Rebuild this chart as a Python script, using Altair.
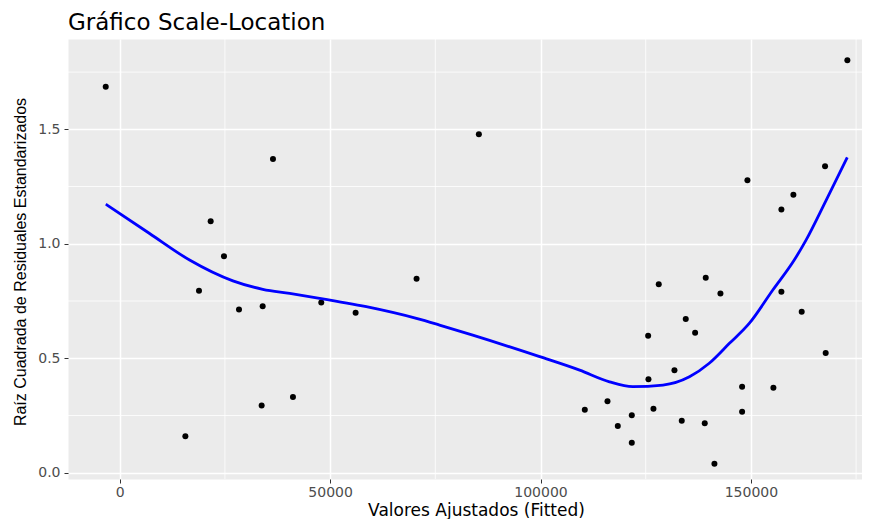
import altair as alt
import pandas as pd

# ---- data ----
fitted = [-3325, 36420, 21615, 24780, 85350, 172920, 149170, 167620, 160095, 157245,
          18840, 28345, 33970, 47900, 56060, 70545, 15600, 33730, 41170,
          128100, 139265, 142755, 134515, 136740, 125580, 157245, 162070, 167770,
          131830, 125650, 147905, 155345, 110525, 115915, 121690, 126840, 118365,
          121690, 133565, 139030, 147905, 141330]
sqrt_std_resid = [1.686, 1.370, 1.098, 0.946, 1.478, 1.802, 1.278, 1.339, 1.214, 1.150,
                  0.795, 0.713, 0.727, 0.744, 0.699, 0.847, 0.159, 0.294, 0.331,
                  0.823, 0.852, 0.783, 0.671, 0.611, 0.598, 0.790, 0.703, 0.523,
                  0.447, 0.408, 0.376, 0.371, 0.275, 0.312, 0.251, 0.279, 0.204,
                  0.131, 0.227, 0.216, 0.266, 0.039]

# smoothed (loess) curve
curve_x = [-3300, 7100, 16600, 26900, 34000, 40400, 47500, 58600, 70500, 76000,
           83900, 99800, 109300, 116400, 121900, 129100, 135400, 140100, 144900,
           149600, 155200, 160300, 163100, 167900, 172900]
curve_y = [1.173, 1.045, 0.929, 0.838, 0.801, 0.783, 0.762, 0.725, 0.674, 0.645,
           0.601, 0.507, 0.448, 0.397, 0.376, 0.383, 0.419, 0.478, 0.565,
           0.652, 0.798, 0.929, 1.016, 1.191, 1.377]

x_major = [0, 50000, 100000, 150000]
y_major = [0.0, 0.5, 1.0, 1.5]
x_minor = [25000, 75000, 125000, 175000]
y_minor = [0.25, 0.75, 1.25, 1.75]

X_DOMAIN = [-12290, 176400]
Y_DOMAIN = [-0.0275, 1.8945]

xscale = alt.Scale(domain=X_DOMAIN, nice=False, zero=False)
yscale = alt.Scale(domain=Y_DOMAIN, nice=False, zero=False)

pts = pd.DataFrame({"fitted": fitted, "r": sqrt_std_resid})
curve = pd.DataFrame({"fitted": curve_x, "r": curve_y})
xmin_df = pd.DataFrame({"fitted": x_minor})
ymin_df = pd.DataFrame({"r": y_minor})

X_TITLE = "Valores Ajustados (Fitted)"
Y_TITLE = "Raíz Cuadrada de Residuales Estandarizados"

x_axis = alt.Axis(
    values=x_major, format="d", grid=True, gridColor="white", gridWidth=1.5,
    domain=False, ticks=True, tickColor="#333333", tickSize=4, tickWidth=1,
    labelPadding=2, labelFont="DejaVu Sans", labelFontSize=14, labelColor="#4D4D4D",
    labelFlush=False, labelOverlap=False,
    title=X_TITLE, titleFont="DejaVu Sans", titleFontSize=17,
    titleFontWeight="normal", titleColor="black", titleX=408, titleY=36,
    titleAlign="center", titleBaseline="alphabetic",
)
y_axis = alt.Axis(
    values=y_major, format=".1f", grid=True, gridColor="white", gridWidth=1.5,
    domain=False, ticks=True, tickColor="#333333", tickSize=4, tickWidth=1,
    labelPadding=4, labelFont="DejaVu Sans", labelFontSize=14, labelColor="#4D4D4D",
    labelFlush=False, labelOverlap=False,
    title=Y_TITLE, titleFont="Liberation Sans",
    titleFontSize=16, titleFontWeight="normal", titleColor="black",
    titleX=-43, titleY=222.5, titleAngle=270, titleAlign="center",
    titleBaseline="alphabetic",
)

X = alt.X("fitted:Q", scale=xscale, axis=x_axis, title=X_TITLE)
Y = alt.Y("r:Q", scale=yscale, axis=y_axis, title=Y_TITLE)

minor_x = alt.Chart(xmin_df).mark_rule(color="white", strokeWidth=0.8).encode(x=X)
minor_y = alt.Chart(ymin_df).mark_rule(color="white", strokeWidth=0.8).encode(y=Y)
points = alt.Chart(pts).mark_circle(color="black", opacity=1, size=36).encode(x=X, y=Y)
line = alt.Chart(curve).mark_line(color="#0000FF", strokeWidth=2.8, interpolate="monotone").encode(
    x=X, y=Y
)

chart = alt.layer(minor_x, minor_y, points, line).properties(
    width=794,
    height=440,
    background="white",
    padding={"left": 60, "top": 31, "right": 0, "bottom": 40},
    autosize=alt.AutoSizeParams(type="none"),
    title=alt.Title(
        "Gráfico Scale-Location", anchor="start", frame="group",
        font="DejaVu Sans", fontSize=23, fontWeight="normal", color="black",
    ),
).configure_view(
    stroke="transparent", fill="#EBEBEB"
)

chart.save("out.html", embed_options={"renderer": "svg", "actions": False})
